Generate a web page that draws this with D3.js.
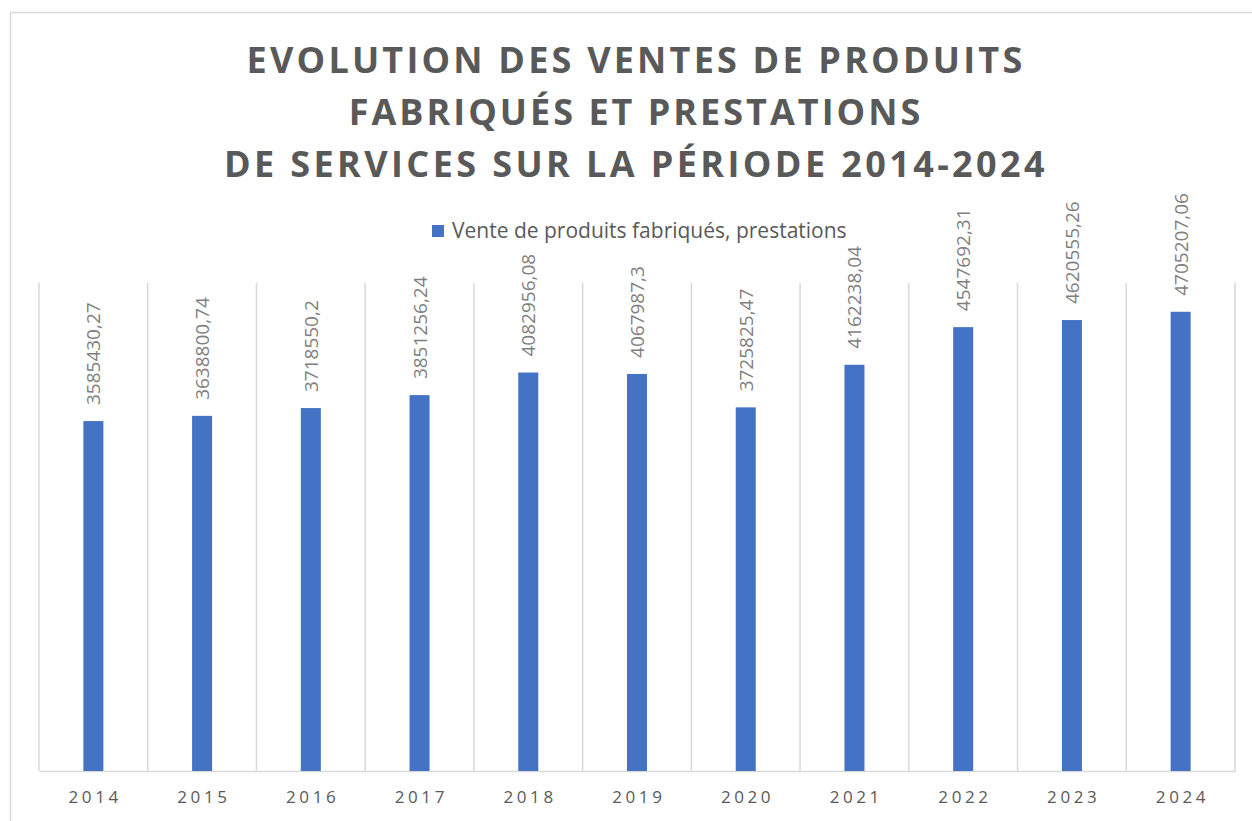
<!DOCTYPE html>
<html><head><meta charset="utf-8">
<script src="https://cdn.jsdelivr.net/npm/d3@7"></script>
<style>body{margin:0;background:#fff}svg{display:block}</style>
</head><body>
<svg id="c" width="1252" height="821"></svg>
<script>
const categories = ["2014","2015","2016","2017","2018","2019","2020","2021","2022","2023","2024"];
const values = [3585430.27,3638800.74,3718550.2,3851256.24,4082956.08,4067987.3,3725825.47,4162238.04,4547692.31,4620555.26,4705207.06];
const valueLabels = ["3585430,27","3638800,74","3718550,2","3851256,24","4082956,08","4067987,3","3725825,47","4162238,04","4547692,31","4620555,26","4705207,06"];
const titleLines = ["EVOLUTION DES VENTES DE PRODUITS","FABRIQUÉS ET PRESTATIONS","DE SERVICES SUR LA PÉRIODE 2014-2024"];
const seriesName = "Vente de produits fabriqués, prestations";

const svg = d3.select("#c");
svg.append("rect").attr("x",10.5).attr("y",12.5).attr("width",1250).attr("height",820)
  .attr("fill","#fff").attr("stroke","#d9d9d9").attr("stroke-width",1.5);

const x = d3.scaleBand().domain(categories).range([39,1235]).paddingInner(0).paddingOuter(0);
const y = d3.scaleLinear().domain([0,5000000]).range([771,283]);

// title
const t = svg.append("g");
const titleSpacing = [3.2, 3.0, 3.4];
titleLines.forEach((s,i)=>{
  t.append("text").attr("x",636).attr("y",73+i*52).attr("text-anchor","middle")
   .attr("font-family","Open Sans").attr("font-weight","bold").attr("font-size",36)
   .attr("letter-spacing",titleSpacing[i]+"px").attr("fill","#595959").text(s);
});

// legend
svg.append("rect").attr("x",432).attr("y",225).attr("width",12).attr("height",12).attr("fill","#4472c4");
svg.append("text").attr("x",452).attr("y",238).attr("font-family","Open Sans").attr("font-size",21)
  .attr("fill","#595959").text(seriesName);

// gridlines (category separators)
const seps = categories.map(c=>x(c)).concat([x.range()[1]]);
svg.append("g").selectAll("line").data(seps).join("line")
  .attr("x1",d=>d).attr("x2",d=>d).attr("y1",y(5000000)).attr("y2",y(0))
  .attr("stroke","#d9d9d9").attr("stroke-width",1.5);

// x axis
const xa = svg.append("g").attr("transform",`translate(0,${y(0)})`)
  .call(d3.axisBottom(x).tickSize(0).tickPadding(20));
xa.select(".domain").attr("stroke","#d9d9d9").attr("stroke-width",1.5);
xa.selectAll("text").attr("font-family","Open Sans").attr("font-size",17).attr("fill","#595959")
  .attr("letter-spacing","3.6px").attr("dx","1.8px");

// bars
const bw = 20;
svg.append("g").selectAll("rect").data(values).join("rect")
  .attr("x",(d,i)=>x(categories[i])+x.bandwidth()/2-bw/2).attr("width",bw)
  .attr("y",d=>y(d)).attr("height",d=>y(0)-y(d)).attr("fill","#4472c4");

// data labels
svg.append("g").selectAll("text").data(values).join("text")
  .attr("transform",(d,i)=>`translate(${x(categories[i])+x.bandwidth()/2+7},${y(d)-16}) rotate(-90)`)
  .attr("font-family","Open Sans").attr("font-size",19).attr("fill","#7f7f7f")
  .text((d,i)=>valueLabels[i]);
</script>
</body></html>
